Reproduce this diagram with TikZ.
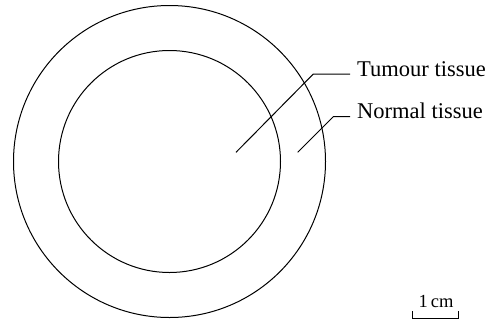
\documentclass[tikz,border=0pt]{standalone}
\usepackage{fontspec}
\setmainfont{Liberation Serif}
\usetikzlibrary{positioning}

\tikzset{
  tissue/.style={circle, draw, line width=1pt, inner sep=0pt},
  lbl/.style={anchor=mid west, inner sep=0pt, font=\fontsize{22.5}{26}\selectfont},
  leader/.style={line width=1pt},
}

\begin{document}
\begin{tikzpicture}[x=1pt, y=-1pt]
        \useasboundingbox (0,0) rectangle (495,322);

        % Outer ring and inner tumour region
        \node[tissue, minimum size=312pt] (outer) at (169.5,161.5) {};
        \node[tissue, minimum size=222pt] (inner) at (169.5,161.5) {};

        % Labels
        \node[lbl] (tumour) at (357,74) {Tumour tissue};
        \node[lbl] (normal) at (357,116.7) {Normal tissue};

        % Leader lines
        \coordinate (tpt) at (236,152.3);
        \coordinate (npt) at (297.7,152.3);
        \draw[leader] (tpt) -- (313.3,74) -- ([xshift=-7pt]tumour.mid west);
        \draw[leader] (npt) -- (333.3,116.7) -- ([xshift=-7pt]normal.mid west);

        % Scale bar
        \coordinate (sl) at (412.7,318.3);
        \coordinate (sr) at (458.3,318.3);
        \draw[line width=1pt] ([yshift=7pt]sl) -- (sl) -- (sr) -- ([yshift=7pt]sr);
        \node[anchor=base, inner sep=0pt, font=\fontsize{18.5}{21}\selectfont] (scale) at (436,307) {1\,cm};
    \end{tikzpicture}
\end{document}
